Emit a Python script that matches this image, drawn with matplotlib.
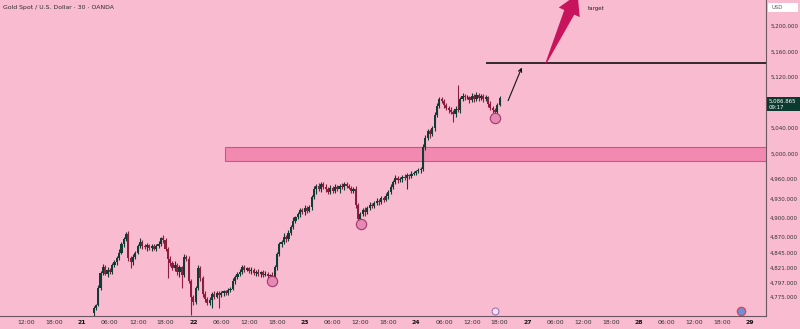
import numpy as np
import matplotlib
matplotlib.use("Agg")
import matplotlib.pyplot as plt
from matplotlib.patches import Polygon, Rectangle

# 30 minute candles, XAUUSD, Apr 21 - Apr 24
opens = [
    4750, 4758, 4763, 4790, 4813, 4822, 4812, 4818, 4814, 4825, 4830, 4836, 4845, 4858, 4866, 4874,
    4837, 4830, 4838, 4845, 4855, 4862, 4855, 4853, 4857, 4852, 4855, 4851, 4856, 4858, 4868, 4865,
    4850, 4835, 4828, 4820, 4826, 4815, 4822, 4810, 4838, 4835, 4800, 4775, 4768, 4790, 4820, 4805,
    4780, 4772, 4766, 4770, 4780, 4776, 4782, 4778, 4781, 4784, 4782, 4786, 4788, 4800, 4806, 4812,
    4815, 4822, 4818, 4820, 4816, 4818, 4813, 4815, 4811, 4814, 4810, 4812, 4808, 4810, 4805, 4822,
    4842, 4858, 4862, 4870, 4866, 4876, 4885, 4895, 4900, 4905, 4912, 4908, 4915, 4910, 4916, 4932,
    4945, 4950, 4944, 4953, 4948, 4945, 4940, 4946, 4942, 4948, 4944, 4950, 4947, 4952, 4949, 4946,
    4942, 4945, 4920, 4898, 4905, 4912, 4908, 4915, 4920, 4918, 4922, 4926, 4924, 4930, 4928, 4933,
    4940, 4948, 4955, 4962, 4958, 4960, 4964, 4962, 4966, 4965, 4968, 4970, 4972, 4974, 4976, 5010,
    5025, 5035, 5030, 5040, 5060, 5075, 5085, 5082, 5076, 5072, 5068, 5065, 5062, 5070, 5068, 5085,
    5090, 5088, 5088, 5084, 5090, 5086, 5092, 5087, 5090, 5085, 5088, 5078, 5072, 5068, 5066, 5076,
]
closes = [
    4758, 4763, 4790, 4813, 4822, 4812, 4818, 4814, 4825, 4830, 4836, 4845, 4858, 4866, 4874, 4837,
    4830, 4838, 4845, 4855, 4862, 4855, 4853, 4857, 4852, 4855, 4851, 4856, 4858, 4868, 4865, 4850,
    4835, 4828, 4820, 4826, 4815, 4822, 4810, 4838, 4835, 4800, 4775, 4768, 4790, 4820, 4805, 4780,
    4772, 4766, 4770, 4780, 4776, 4782, 4778, 4781, 4784, 4782, 4786, 4788, 4800, 4806, 4812, 4815,
    4822, 4818, 4820, 4816, 4818, 4813, 4815, 4811, 4814, 4810, 4812, 4808, 4810, 4805, 4822, 4842,
    4858, 4862, 4870, 4866, 4876, 4885, 4895, 4900, 4905, 4912, 4908, 4915, 4910, 4916, 4932, 4945,
    4950, 4944, 4953, 4948, 4945, 4940, 4946, 4942, 4948, 4944, 4950, 4947, 4952, 4949, 4946, 4942,
    4945, 4920, 4898, 4905, 4912, 4908, 4915, 4920, 4918, 4922, 4926, 4924, 4930, 4928, 4933, 4940,
    4948, 4955, 4962, 4958, 4960, 4964, 4962, 4966, 4965, 4968, 4970, 4972, 4974, 4976, 5010, 5025,
    5035, 5030, 5040, 5060, 5075, 5085, 5082, 5076, 5072, 5068, 5065, 5062, 5070, 5068, 5085, 5090,
    5088, 5088, 5084, 5090, 5086, 5092, 5087, 5090, 5085, 5088, 5078, 5072, 5068, 5066, 5076, 5087,
]
# wick length above / below the body
wick_up = [
    3, 2, 4, 3, 5, 3, 4, 2, 3, 4, 3, 5, 4, 3, 3, 4,
    3, 4, 2, 3, 5, 3, 4, 3, 2, 4, 3, 3, 5, 2, 4, 3,
    3, 4, 3, 5, 3, 4, 2, 4, 3, 5, 3, 4, 3, 5, 4, 3,
    4, 3, 5, 3, 4, 3, 2, 4, 3, 3, 4, 3, 5, 4, 3, 4,
    3, 4, 3, 2, 4, 3, 3, 4, 2, 3, 4, 3, 2, 4, 3, 4,
    4, 3, 5, 3, 4, 3, 5, 3, 4, 3, 2, 4, 3, 4, 3, 5,
    3, 4, 3, 2, 4, 3, 5, 3, 4, 3, 2, 4, 3, 4, 3, 4,
    3, 4, 3, 4, 3, 5, 3, 4, 2, 3, 4, 3, 4, 3, 5, 3,
    4, 3, 5, 3, 4, 3, 4, 3, 2, 4, 3, 3, 4, 3, 5, 4,
    3, 4, 3, 5, 4, 3, 4, 3, 4, 3, 5, 3, 4, 38, 3, 5,
    3, 4, 3, 5, 3, 4, 3, 4, 3, 4, 3, 5, 3, 4, 3, 3,
]
wick_dn = [
    4, 3, 2, 3, 4, 3, 5, 3, 2, 3, 4, 2, 3, 4, 3, 5,
    9, 4, 3, 2, 3, 4, 3, 5, 3, 4, 2, 3, 4, 3, 5, 3,
    30, 4, 3, 4, 5, 8, 21, 3, 4, 3, 28, 5, 4, 3, 4, 5,
    5, 4, 3, 12, 4, 3, 20, 3, 4, 3, 4, 3, 2, 4, 3, 4,
    3, 4, 2, 3, 4, 3, 5, 3, 4, 3, 2, 4, 5, 6, 3, 4,
    3, 4, 3, 5, 3, 4, 3, 4, 3, 5, 3, 4, 3, 2, 4, 3,
    8, 3, 4, 3, 5, 3, 4, 3, 4, 3, 5, 3, 4, 3, 2, 4,
    3, 5, 6, 4, 3, 5, 3, 4, 3, 4, 3, 5, 3, 4, 3, 4,
    3, 4, 3, 4, 3, 4, 3, 17, 4, 3, 2, 4, 3, 4, 4, 5,
    4, 5, 3, 4, 3, 4, 3, 5, 3, 4, 3, 12, 4, 3, 4, 3,
    4, 3, 4, 3, 5, 3, 4, 3, 4, 3, 5, 3, 4, 5, 3, 2,
]

price_ticks = [5200, 5160, 5120, 5040, 5000, 4960, 4930, 4900, 4870, 4845, 4821, 4797, 4775]
time_ticks = [-12, -6, 0, 6, 12, 18, 24, 30, 36, 42, 48, 54, 60, 66, 72, 78, 84, 90,
              96, 102, 108, 114, 120, 126, 132, 138, 144]
time_labels = ["12:00", "18:00", "21", "06:00", "12:00", "18:00", "22", "06:00", "12:00", "18:00",
               "23", "06:00", "12:00", "18:00", "24", "06:00", "12:00", "18:00",
               "27", "06:00", "12:00", "18:00", "28", "06:00", "12:00", "18:00", "29"]

zone_lo, zone_hi, zone_start = 4988, 5010, 30.8
target_level, target_start = 5142, 87.1
swing_lows_t = [40.9, 60.1, 89.0]
swing_lows_p = [4800, 4890, 5056]
last_price = "5,086.865"

bg = "#f8bbd0"
up_col, dn_col = "#0f3d33", "#8c1d3f"

fig = plt.figure(figsize=(8, 3.29), dpi=100, facecolor=bg)
ax = fig.add_axes([0, 13 / 329, 766 / 800, 316 / 329], facecolor=bg)
ax.set_xlim(-17.67, 147.4)
ax.set_ylim(4745.5, 5240.8)

o = np.array(opens, float)
c = np.array(closes, float)
hi = np.maximum(o, c) + np.array(wick_up)
lo = np.minimum(o, c) - np.array(wick_dn)
t = 2.5 + 0.5 * np.arange(len(c))
cols = np.where(c >= o, up_col, dn_col)

ax.vlines(t, lo, hi, colors=cols, lw=0.8, zorder=3)
body = np.maximum(np.abs(c - o), 1.5)
ax.bar(t, body, bottom=np.minimum(o, c), width=0.46, color=cols, lw=0, zorder=4)

# supply / demand zone
ax.add_patch(Rectangle((zone_start, zone_lo), 200, zone_hi - zone_lo,
                       facecolor="#f28ab0", edgecolor="#d9507f", lw=0.8, zorder=2))

# target line
ax.hlines(target_level, target_start, 200, colors="#111111", lw=1.2, zorder=5)

# swing low markers
ax.scatter(swing_lows_t, swing_lows_p, s=55, facecolor="#e48ab3", edgecolor="#a3386a",
           lw=0.8, zorder=6)

# projected path arrow
ax.annotate("", xy=(95.0, 5139), xytext=(91.6, 5079),
            arrowprops=dict(arrowstyle="->", color="#111111", lw=0.8, mutation_scale=6), zorder=6)

# big target arrow, built in display space so the shape is not skewed
tail = ax.transData.transform((100.0, 5142))
tip = ax.transData.transform((106.8, 5250))
u = (tip - tail) / np.linalg.norm(tip - tail)
n = np.array([-u[1], u[0]])
head = tip - u * 20
pts = [tail + n * 0.6, head + n * 5.5, head + n * 11.5, tip,
       head - n * 11.5, head - n * 5.5, tail - n * 0.6]
fig.patches.append(Polygon(pts, closed=True, transform=None, facecolor="#c8145c",
                           edgecolor="none", zorder=7, figure=fig))
ax.text(109.0, 5228, "target", fontsize=4, color="#222222", va="center")

ax.yaxis.tick_right()
ax.set_yticks(price_ticks)
ax.set_yticklabels([f"{p:,.3f}" for p in price_ticks], fontsize=4.0, color="#333333")
ax.tick_params(axis="y", length=0, pad=3)
ax.set_xticks(time_ticks)
ax.set_xticklabels(time_labels, fontsize=4.4, color="#333333")
ax.tick_params(axis="x", length=0, pad=3)
for lab in ax.get_xticklabels():
    if ":" not in lab.get_text():
        lab.set_fontweight("bold")
        lab.set_color("#111111")

for s in ["top", "left"]:
    ax.spines[s].set_visible(False)
for s in ["bottom", "right"]:
    ax.spines[s].set_color("#6a5560")
    ax.spines[s].set_linewidth(0.8)

fig.text(3 / 800, 1 - 7 / 329, "Gold Spot / U.S. Dollar · 30 · OANDA", fontsize=4.4,
         color="#2a2a2a", va="center")

# USD box and last price tag on the price scale
fig.patches.append(Rectangle((768 / 800, 1 - 12 / 329), 30 / 800, 9 / 329, transform=fig.transFigure,
                             facecolor="white", edgecolor="none", figure=fig))
fig.text(771 / 800, 1 - 7.5 / 329, "USD", fontsize=3.8, color="#555555", va="center")
fig.patches.append(Rectangle((767 / 800, 1 - 111 / 329), 33 / 800, 14 / 329, transform=fig.transFigure,
                             facecolor="#0b3a2f", edgecolor="none", figure=fig))
fig.text(769 / 800, 1 - 101 / 329, last_price, fontsize=3.9, color="white", va="center")
fig.text(769 / 800, 1 - 107 / 329, "09:17", fontsize=3.9, color="white", va="center")

# small event icons on the time axis
ax.plot([495 / 800], [1 - 311 / 329], "o", ms=5, mfc="#efe0f5", mec="#8a5aa0", mew=0.6,
        transform=fig.transFigure, clip_on=False)
ax.plot([741 / 800], [1 - 311 / 329], "o", ms=6, mfc="#6d8fd6", mec="#e04050", mew=0.9,
        transform=fig.transFigure, clip_on=False)

fig.savefig("out.png", dpi=100, facecolor=bg)
